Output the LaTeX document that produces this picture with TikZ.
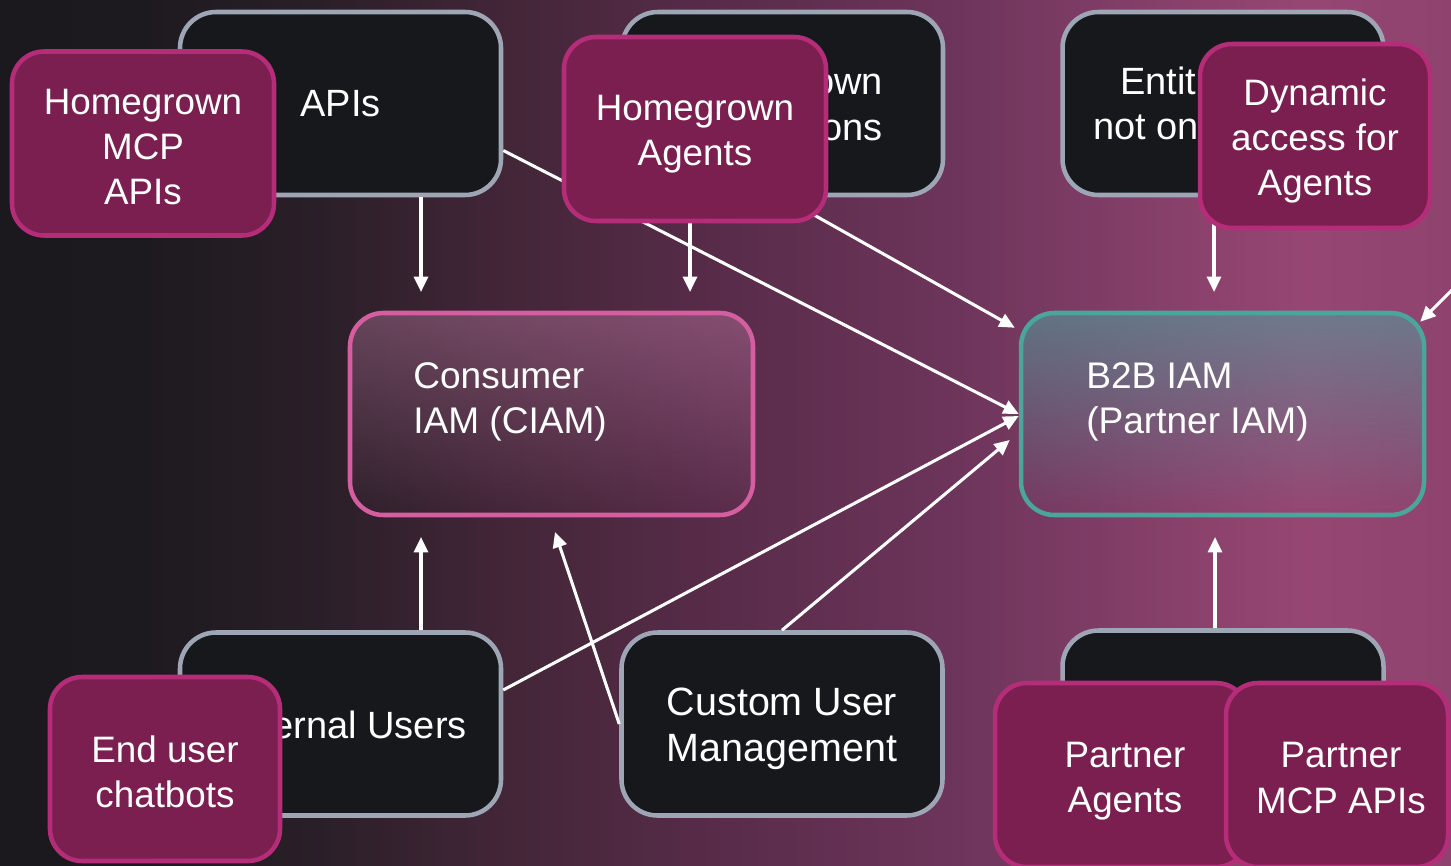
\documentclass[tikz,border=0pt]{standalone}
\usepackage{fontspec}
\setmainfont{Liberation Sans}
\usetikzlibrary{arrows.meta,fadings,calc}
\definecolor{bgA}{HTML}{1B191E}
\definecolor{bgB}{HTML}{1D1A1F}
\definecolor{bgC}{HTML}{2A1F28}
\definecolor{bgD}{HTML}{432638}
\definecolor{bgE}{HTML}{592C4A}
\definecolor{bgF}{HTML}{6C345A}
\definecolor{bgG}{HTML}{86406A}
\definecolor{bgH}{HTML}{974673}
\definecolor{bgI}{HTML}{8E436E}
\definecolor{darkedge}{HTML}{9EA6B5}
\definecolor{darkfill}{HTML}{17181C}
\definecolor{magedge}{HTML}{B52D78}
\definecolor{magfill}{HTML}{7A1F50}
\definecolor{ciamedge}{HTML}{D45E9F}
\definecolor{ciamglow}{HTML}{E89ACB}
\definecolor{btobedge}{HTML}{4AA59B}
\definecolor{btobglow}{HTML}{50A5A2}
\pgfdeclarehorizontalshading{bgshade}{100bp}{color(0bp)=(bgA); color(25bp)=(bgA); color(30bp)=(bgB); color(36bp)=(bgC); color(42.5bp)=(bgD); color(50bp)=(bgE); color(57.5bp)=(bgF); color(65bp)=(bgG); color(70bp)=(bgH); color(75bp)=(bgI); color(100bp)=(bgI)}
\tikzfading[name=glowfull, top color=transparent!0, bottom color=transparent!100]
\newcommand\darkfont{\fontsize{28.5}{34.5}\selectfont}
\newcommand\iamfont{\fontsize{27.8}{34}\selectfont}
\newcommand\cumfont{\fontsize{29.6}{34.5}\selectfont}
\newcommand\magfont{\fontsize{27.6}{33.8}\selectfont}
\tikzset{
  darkbox/.style={draw=darkedge, fill=darkfill, line width=3.4pt, rounded corners=27pt,
    minimum width=240.75pt, minimum height=137.25pt, inner sep=0pt, text=white,
    font=\darkfont, align=center},
  magbox/.style={draw=magedge, fill=magfill, line width=3.4pt, rounded corners=24pt,
    minimum height=138pt, inner sep=0pt},
  iambox/.style={line width=3.4pt, rounded corners=25pt, minimum width=302.25pt,
    minimum height=151.5pt, inner sep=0pt},
  lbl/.style={text=white, font=\darkfont, inner sep=0pt},
  magtxt/.style={text=white, font=\magfont, inner sep=0pt, align=center},
  conn/.style={draw=white, line width=2.3pt, -{Triangle[length=11.5pt,width=10.5pt]}},
}
\begin{document}
\begin{tikzpicture}[x=0.75pt,y=-0.75pt]
\useasboundingbox (0,0) rectangle (1451,866);
\shade[shading=bgshade] (0,0) rectangle (1451,866);

% dark boxes
\node[darkbox] (apis) at (340.5,103.5) {APIs};
\node[darkbox] (apps) at (782.5,103.5) {};
\node[darkbox] (ent) at (1223,103.5) {};
\node[darkbox] (intu) at (340.5,724) {};
\node[darkbox] (cum) at (782,724) {};
\node[darkbox] (pdark) at (1223,722) {};
\node[lbl, font=\cumfont, align=center] (cumtxt) at (782,729) {Custom User\\Management};

% partially hidden texts
\node[lbl, anchor=east, align=right] (appstxt) at (883,107) {own\\ons};
\node[lbl, anchor=west] (enttxt1) at (1120,81) {Entit};
\node[lbl, anchor=west] (enttxt2) at (1093,127) {not on};
\node[lbl, anchor=east] (intutxt) at (467,725) {ernal Users};

% target coordinates
\coordinate (ciamIn1) at (421,292);
\coordinate (ciamIn2) at (690,292);
\coordinate (ciamUp1) at (421,537);
\coordinate (ciamUp2) at (555,532);
\coordinate (b2bIn) at (1214,292);
\coordinate (b2bUp) at (1215,537);
\coordinate (offR) at (1464,278);

% IAM boxes
\node[iambox, draw=ciamedge, path picture={\fill[ciamglow, fill opacity=0.3, path fading=glowfull] (path picture bounding box.south west) rectangle (path picture bounding box.north east);}] (ciam) at (551.5,414) {};
\node[iambox, draw=btobedge, path picture={\fill[btobglow, fill opacity=0.55, path fading=glowfull] (path picture bounding box.south west) rectangle (path picture bounding box.north east);}] (b2b) at (1222.5,414) {};
\node[lbl, font=\iamfont, anchor=west, align=left] (ciamtxt) at (413,402) {Consumer\\IAM (CIAM)};
\node[lbl, font=\iamfont, anchor=west, align=left] (b2btxt) at (1086,402) {B2B IAM\\(Partner IAM)};

% connectors
\draw[conn] ($(apis.east)+(0,47)$) -- (b2b.west);
\draw[conn] (apps.south) -- ($(b2b.north west)+(-4,17)$);
\draw[conn] ($(intu.east)+(0,-34)$) -- ($(b2b.west)+(0,2)$);
\draw[conn] (cum.north) -- ($(b2b.west)+(-9,26)$);
\draw[conn] (cum.west) -- (ciamUp2);
\draw[conn] (intu.north -| ciamUp1) -- (ciamUp1);
\draw[conn] (apis.south -| ciamIn1) -- (ciamIn1);
\draw[conn] (apps.south -| ciamIn2) -- (ciamIn2);
\draw[conn] (pdark.north -| b2bUp) -- (b2bUp);
\draw[conn] (ent.south -| b2bIn) -- (b2bIn);
\draw[conn] (offR) -- ($(b2b.north east)+(-6,11)$);

% magenta boxes
\node[magbox, minimum width=196.5pt] (hma) at (143,143.5) {};
\node[magtxt] (hmatxt) at (143,147) {Homegrown\\MCP\\APIs};
\node[magbox, minimum width=196.5pt] (hga) at (695,129) {};
\node[magtxt] (hgatxt) at (695,134) {Homegrown\\Agents};
\node[magbox, minimum width=172.5pt] (dyn) at (1315,136) {};
\node[magtxt] (dyntxt) at (1315,141) {Dynamic\\access for\\Agents};
\node[magbox, minimum width=172.5pt] (euc) at (165,769) {};
\node[magtxt] (euctxt) at (165,772) {End user\\chatbots};
\node[magbox, minimum width=189.75pt] (pag) at (1121.5,775) {};
\node[magtxt] (pagtxt) at (1125,781) {Partner\\Agents};
\node[magbox, minimum width=166.5pt] (pmcp) at (1337,775) {};
\node[magtxt] (pmcptxt) at (1341,778) {Partner\\MCP APIs};
\end{tikzpicture}
\end{document}
